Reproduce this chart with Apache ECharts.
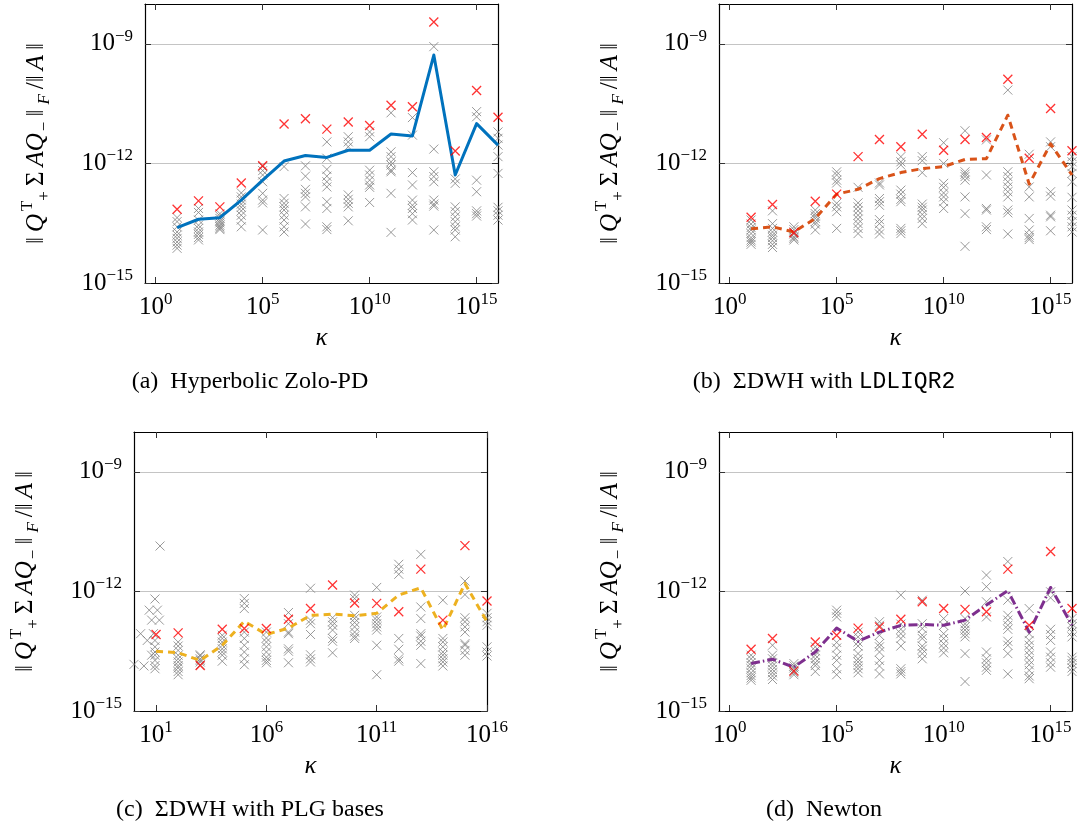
<!DOCTYPE html>
<html>
<head>
<meta charset="utf-8">
<script src="https://cdn.jsdelivr.net/npm/echarts@6/dist/echarts.min.js"></script>
<style>
html, body { margin: 0; background: #fff; }
#chart { width: 1082px; height: 833px; }
</style>
</head>
<body>
<div id="chart"></div>
<script>
// log10(kappa) of every test column
const kappaExp = [1, 2, 3, 4, 5, 6, 7, 8, 9, 10, 11, 12, 13, 14, 15, 16];

// all error values below are log10 of ||Q+^T Sigma A Q-||_F / ||A||

// (a) Hyperbolic Zolo-PD
const grayA = [
  [-13.36, -13.46, -13.59, -13.72, -13.80, -13.88, -13.97, -14.05, -14.13],
  [-13.13, -13.23, -13.42, -13.55, -13.63, -13.72, -13.78, -13.86, -13.92],
  [-13.26, -13.32, -13.38, -13.44, -13.49, -13.55, -13.59, -13.63, -13.66],
  [-12.74, -12.84, -12.92, -13.02, -13.10, -13.19, -13.30, -13.42, -13.59],
  [-12.08, -12.18, -12.29, -12.46, -12.75, -12.92, -12.99, -13.67],
  [-12.08, -12.88, -13.00, -13.09, -13.17, -13.30, -13.42, -13.59, -13.72],
  [-12.06, -12.32, -12.65, -12.75, -12.84, -13.09, -13.52],
  [-11.46, -11.87, -12.15, -12.32, -12.46, -12.59, -12.96, -13.13, -13.59, -13.66],
  [-11.33, -11.46, -11.58, -12.79, -12.90, -13.00, -13.09, -13.44],
  [-11.21, -11.33, -12.17, -12.29, -12.42, -12.54, -12.60, -12.98],
  [-10.73, -11.71, -11.83, -11.96, -12.04, -12.17, -12.21, -12.75, -13.73],
  [-10.85, -11.29, -12.23, -12.54, -12.92, -13.05, -13.13, -13.26, -13.42],
  [-9.07, -11.64, -12.21, -12.33, -12.46, -12.92, -13.02, -13.07, -13.67],
  [-12.39, -12.50, -13.09, -13.21, -13.34, -13.46, -13.59, -13.67, -13.84],
  [-10.70, -10.83, -12.42, -12.71, -13.19, -13.26, -13.32],
  [-11.21, -11.37, -11.54, -11.83, -12.25, -13.10, -13.19, -13.30, -13.42]
];
const redA = [-13.15, -12.94, -13.09, -12.49, -12.06, -11.01, -10.88, -11.14, -10.96, -11.05, -10.54, -10.58, -8.45, -11.69, -10.17, -10.84];
const lineA = [-13.61, -13.40, -13.36, -12.92, -12.42, -11.94, -11.80, -11.85, -11.67, -11.67, -11.26, -11.31, -9.28, -12.29, -11.00, -11.54];

// (b) Sigma-DWH with LDLIQR2
const grayB = [
  [-13.42, -13.52, -13.61, -13.67, -13.76, -13.86, -13.92, -13.97, -14.03],
  [-13.19, -13.51, -13.63, -13.72, -13.80, -13.86, -13.94, -14.03, -14.11],
  [-13.59, -13.66, -13.72, -13.77, -13.84, -13.88, -13.92],
  [-13.17, -13.26, -13.32, -13.38, -13.46, -13.52, -13.67],
  [-12.21, -12.29, -12.42, -12.49, -13.00, -13.09, -13.21, -13.63],
  [-12.60, -12.99, -13.09, -13.19, -13.30, -13.40, -13.51, -13.63, -13.76],
  [-12.49, -12.54, -12.88, -12.96, -13.05, -13.41, -13.51, -13.67, -13.77],
  [-11.83, -11.96, -12.04, -12.67, -12.77, -12.90, -12.96, -13.63, -13.69, -13.76],
  [-11.83, -11.93, -12.23, -13.02, -13.10, -13.17, -13.28, -13.38, -13.51],
  [-11.48, -12.00, -12.50, -12.60, -12.74, -12.84, -12.96, -13.13],
  [-11.18, -12.21, -12.27, -12.33, -12.42, -12.84, -13.26, -14.08],
  [-11.41, -12.29, -13.13, -13.17, -13.59, -13.66],
  [-10.16, -12.21, -12.33, -12.46, -12.59, -12.71, -12.84, -13.17, -13.24, -13.77],
  [-11.77, -12.59, -12.84, -13.38, -13.67, -13.80, -13.86, -13.91],
  [-11.46, -11.58, -12.71, -12.82, -13.30, -13.34, -13.69],
  [-11.83, -11.96, -12.08, -12.25, -12.46, -12.85, -13.17, -13.30, -13.46, -13.59, -13.72]
];
const redB = [-13.35, -13.03, -13.74, -12.95, -12.77, -11.83, -11.40, -11.58, -11.27, -11.67, -11.40, -11.35, -9.89, -11.87, -10.62, -11.68];
const lineB = [-13.64, -13.59, -13.72, -13.38, -12.77, -12.65, -12.38, -12.23, -12.13, -12.08, -11.90, -11.88, -10.79, -12.52, -11.51, -12.29];

// (c) Sigma-DWH with PLG bases; the smallest kappas scatter, so [log10 kappa, log10 error]
const grayCLow = [
  [1.18, -10.86], [0.95, -12.19], [0.69, -12.47], [1.06, -12.47], [0.80, -12.72],
  [1.15, -12.72], [0.30, -13.06], [0.88, -13.06], [0.60, -13.23], [0.95, -13.23],
  [0.95, -13.39], [0.95, -13.52], [0.95, -13.60], [0.95, -13.73], [0.95, -13.86],
  [0.95, -13.94], [0.80, -13.60], [0.00, -13.83], [0.45, -13.87]
];
const grayC = [
  [],
  [-13.27, -13.37, -13.48, -13.60, -13.69, -13.77, -13.86, -13.92, -14.01, -14.09],
  [-13.59, -13.62, -13.69, -13.73, -13.77, -13.84],
  [-13.10, -13.18, -13.27, -13.35, -13.44, -13.52, -13.60, -13.75],
  [-12.18, -12.30, -12.43, -13.02, -13.18, -13.35, -13.52, -13.69, -13.84],
  [-13.02, -13.17, -13.27, -13.39, -13.52, -13.65, -13.73, -13.79],
  [-12.53, -12.81, -13.02, -13.06, -13.44, -13.50, -13.79],
  [-11.92, -12.72, -12.81, -13.08, -13.59, -13.69, -13.77],
  [-12.66, -12.76, -12.85, -12.97, -13.18, -13.25, -13.54],
  [-12.09, -12.18, -12.60, -12.68, -12.78, -12.89, -13.02, -13.12, -13.18],
  [-11.90, -12.64, -12.72, -12.81, -12.89, -12.97, -13.35, -14.09],
  [-11.32, -11.44, -11.57, -13.18, -13.45, -13.69, -13.75],
  [-11.07, -12.39, -12.68, -13.06, -13.12, -13.25, -13.35, -13.81],
  [-12.22, -13.18, -13.27, -13.39, -13.52, -13.60, -13.69, -13.77, -13.87],
  [-11.74, -12.08, -12.66, -12.76, -12.89, -13.02, -13.31, -13.35, -13.48, -13.60],
  [-12.55, -12.66, -12.76, -12.85, -13.39, -13.52, -13.62]
];
const redC = [-13.08, -13.04, -13.86, -12.95, -12.93, -12.93, -12.70, -12.43, -11.84, -12.29, -12.30, -12.51, -11.44, -12.72, -10.85, -12.24];
const lineC = [-13.50, -13.54, -13.73, -13.35, -12.75, -13.08, -12.92, -12.60, -12.57, -12.61, -12.55, -12.09, -11.91, -12.97, -11.80, -12.76];

// (d) Newton
const grayD = [
  [-13.60, -13.69, -13.79, -13.86, -13.94, -14.04, -14.11, -14.17, -14.23],
  [-13.35, -13.60, -13.69, -13.79, -13.87, -13.96, -14.04, -14.12, -14.21],
  [-13.81, -13.87, -13.92, -13.98, -14.04, -14.09],
  [-13.39, -13.49, -13.60, -13.69, -13.79, -13.86, -14.01],
  [-12.47, -12.55, -12.64, -13.28, -13.42, -13.60, -13.73, -13.94, -14.09],
  [-13.02, -13.14, -13.27, -13.37, -13.56, -13.69, -13.77, -13.86, -13.94, -14.04],
  [-12.76, -12.85, -13.10, -13.31, -13.39, -13.52, -13.73, -13.87, -14.07],
  [-12.09, -12.82, -12.95, -13.06, -13.18, -13.37, -13.94, -14.01, -14.07],
  [-12.22, -12.81, -12.93, -13.10, -13.18, -13.37, -13.45, -13.56, -13.69],
  [-12.68, -12.85, -13.06, -13.18, -13.31, -13.42, -13.54],
  [-11.99, -12.68, -12.81, -12.89, -12.97, -13.06, -13.14, -13.56, -14.26],
  [-11.59, -11.88, -12.26, -12.64, -13.52, -13.69, -13.79, -13.90, -13.98],
  [-11.25, -12.22, -12.60, -12.72, -12.85, -12.95, -13.25, -13.35, -13.56, -14.07],
  [-12.43, -13.06, -13.23, -13.35, -13.48, -13.60, -13.73, -13.84, -13.98, -14.12, -14.19],
  [-12.01, -12.16, -12.95, -13.08, -13.23, -13.52, -13.65, -13.79, -13.90],
  [-12.68, -12.81, -12.89, -13.02, -13.14, -13.65, -13.73, -13.81, -13.92, -14.01]
];
const redD = [-13.45, -13.18, -14.00, -13.27, -13.10, -12.92, -12.89, -12.70, -12.26, -12.43, -12.45, -12.51, -11.44, -12.85, -11.00, -12.43];
const lineD = [-13.81, -13.70, -13.90, -13.52, -12.92, -13.25, -13.02, -12.85, -12.83, -12.85, -12.72, -12.34, -11.98, -13.02, -11.90, -12.85];

// tick positions
const xTicksStd = [1, 1e5, 1e10, 1e15];
const xTicksPLG = [1e1, 1e6, 1e11, 1e16];
const yTicks = [1e-15, 1e-12, 1e-9];

const SERIF = '"Liberation Serif", "DejaVu Serif", serif';
const MONO = '"Liberation Mono", "DejaVu Sans Mono", monospace';
const CROSS = 'path://M0,0L10,10M10,0L0,10';

const p10 = v => Math.pow(10, v);
const columnPoints = cols => cols.flatMap((col, i) => col.map(e => [p10(kappaExp[i]), p10(e)]));
const linePoints = vals => vals.map((e, i) => [p10(kappaExp[i]), p10(e)]);

const panels = [
  { grid: { left: 145, top: 4, width: 353, height: 279 }, xMin: p10(-0.5), xTicks: xTicksStd,
    gray: columnPoints(grayA), red: linePoints(redA), line: linePoints(lineA),
    color: '#0072BD', dash: 'solid' },
  { grid: { left: 719, top: 4, width: 353, height: 279 }, xMin: p10(-0.5), xTicks: xTicksStd,
    gray: columnPoints(grayB), red: linePoints(redB), line: linePoints(lineB),
    color: '#D95319', dash: [7, 5] },
  { grid: { left: 134, top: 432, width: 353, height: 279 }, xMin: 1, xTicks: xTicksPLG,
    gray: grayCLow.map(p => [p10(p[0]), p10(p[1])]).concat(columnPoints(grayC)),
    red: linePoints(redC), line: linePoints(lineC),
    color: '#EDB120', dash: [7, 5] },
  { grid: { left: 719, top: 432, width: 353, height: 279 }, xMin: p10(-0.5), xTicks: xTicksStd,
    gray: columnPoints(grayD), red: linePoints(redD), line: linePoints(lineD),
    color: '#7E2F8E', dash: [9, 3, 1.5, 3] }
];

const supRich = {
  sup: { fontFamily: SERIF, fontSize: 17, lineHeight: 16, verticalAlign: 'top', color: '#000' }
};
const powLabel = v => {
  const e = Math.round(Math.log10(v));
  return '10{sup|' + (e < 0 ? '\u2212' + (-e) : e) + '}';
};
const labelStyle = {
  fontFamily: SERIF, fontSize: 25, lineHeight: 32, color: '#000',
  formatter: powLabel, rich: supRich
};

const yName = '{n|\u2016}{i|Q}{sup|T}{sub|+}{n|\u03a3}{i|AQ}{sub|\u2212}{n|\u2016}{subi|F}{n|/\u2016}{i|A}{n|\u2016}';
const yNameRich = {
  n: { fontFamily: SERIF, fontSize: 25, lineHeight: 34, padding: [0, 3], color: '#000' },
  i: { fontFamily: SERIF, fontSize: 25, lineHeight: 34, padding: [0, 2], fontStyle: 'italic', color: '#000' },
  sup: { fontFamily: SERIF, fontSize: 17, lineHeight: 16, padding: [0, 0, 0, 1], verticalAlign: 'top', color: '#000' },
  sub: { fontFamily: SERIF, fontSize: 17, lineHeight: 14, padding: [0, 2, 0, 0], verticalAlign: 'bottom', color: '#000' },
  subi: { fontFamily: SERIF, fontSize: 17, lineHeight: 14, padding: [0, 2], verticalAlign: 'bottom', fontStyle: 'italic', color: '#000' }
};

const frame = { show: true, onZero: false, lineStyle: { color: '#000', width: 1.2 } };
const tick = vals => ({ show: true, inside: true, length: 6, customValues: vals, lineStyle: { color: '#333', width: 1 } });

const grids = [], xAxes = [], yAxes = [], series = [];
panels.forEach((p, k) => {
  grids.push(p.grid);
  xAxes.push({
    gridIndex: k, type: 'log', logBase: 10, min: p.xMin, max: 1e16, position: 'bottom',
    axisLine: frame, axisTick: tick(p.xTicks),
    axisLabel: Object.assign({ customValues: p.xTicks, margin: 8 }, labelStyle),
    splitLine: { show: false },
    name: '\u03ba', nameLocation: 'middle', nameGap: 43,
    nameTextStyle: { fontFamily: SERIF, fontSize: 25, fontStyle: 'italic', color: '#000' }
  });
  xAxes.push({
    gridIndex: k, type: 'log', logBase: 10, min: p.xMin, max: 1e16, position: 'top',
    axisLine: frame, axisTick: tick(p.xTicks), axisLabel: { show: false }, splitLine: { show: false }
  });
  yAxes.push({
    gridIndex: k, type: 'log', logBase: 10, min: 1e-15, max: 1e-8, position: 'left',
    axisLine: frame, axisTick: tick(yTicks),
    axisLabel: Object.assign({ customValues: yTicks, margin: 12 }, labelStyle),
    splitLine: { show: true, lineStyle: { color: '#c4c4c4', width: 1 } },
    name: yName, nameLocation: 'middle', nameGap: 92, nameRotate: 90,
    nameTextStyle: { rich: yNameRich }
  });
  yAxes.push({
    gridIndex: k, type: 'log', logBase: 10, min: 1e-15, max: 1e-8, position: 'right',
    axisLine: frame, axisTick: tick(yTicks), axisLabel: { show: false }, splitLine: { show: false }
  });
  series.push({
    type: 'scatter', xAxisIndex: 2 * k, yAxisIndex: 2 * k, data: p.gray,
    symbol: CROSS, symbolSize: 9, z: 2,
    itemStyle: { color: 'none', borderColor: '#808080', borderWidth: 1 }
  });
  series.push({
    type: 'line', xAxisIndex: 2 * k, yAxisIndex: 2 * k, data: p.line,
    showSymbol: false, symbol: 'none', z: 3,
    lineStyle: { color: p.color, width: 3, type: p.dash, cap: 'butt', join: 'round' }
  });
  series.push({
    type: 'scatter', xAxisIndex: 2 * k, yAxisIndex: 2 * k, data: p.red,
    symbol: CROSS, symbolSize: 9, z: 4,
    itemStyle: { color: 'none', borderColor: '#ff0000', borderWidth: 1.3 }
  });
});

const captionRich = {
  tt: { fontFamily: MONO, fontSize: 23, color: '#000' }
};
const caption = (x, y, text) => ({
  type: 'text', x: x, y: y,
  style: {
    text: text, fontFamily: SERIF, fontSize: 24, fill: '#000',
    textAlign: 'center', textVerticalAlign: 'middle', rich: captionRich
  }
});

const chart = echarts.init(document.getElementById('chart'));
chart.setOption({
  animation: false,
  backgroundColor: '#fff',
  grid: grids,
  xAxis: xAxes,
  yAxis: yAxes,
  series: series,
  graphic: [
    caption(250, 382, '(a)  Hyperbolic Zolo-PD'),
    caption(824, 382, '(b)  \u03a3DWH with {tt|LDLIQR2}'),
    caption(250, 810, '(c)  \u03a3DWH with PLG bases'),
    caption(824, 810, '(d)  Newton')
  ]
});
</script>
</body>
</html>
